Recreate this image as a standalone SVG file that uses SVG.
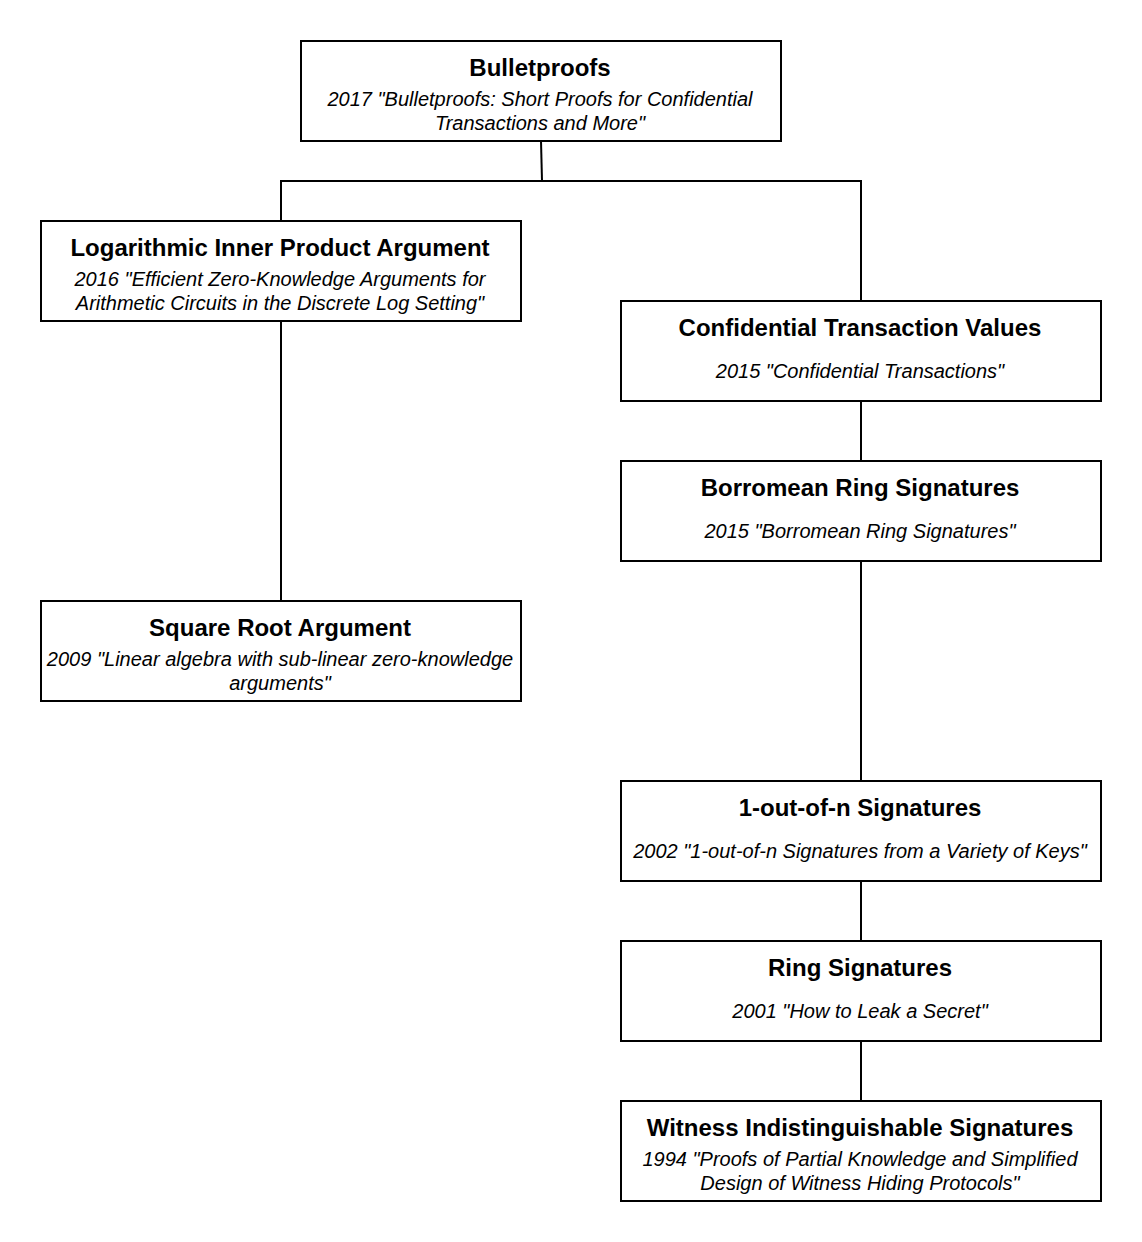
<svg xmlns="http://www.w3.org/2000/svg" width="1142" height="1242" viewBox="0 0 1142 1242">
<style>
.box{fill:#fff;stroke:#000;stroke-width:2}
.t{font-family:"Liberation Sans",Arial,sans-serif;font-size:24px;font-weight:bold;text-anchor:middle;fill:#000}
.s{font-family:"Liberation Sans",Arial,sans-serif;font-size:20px;font-style:italic;text-anchor:middle;fill:#000}
.c{fill:none;stroke:#000;stroke-width:2}
</style>
<rect width="1142" height="1242" fill="#fff"/>
<g id="connectors">
<path class="c" d="M541 141 L542 181"/>
<path class="c" d="M281 221 L281 181 L861 181 L861 301"/>
<path class="c" d="M281 321 L281 601"/>
<path class="c" d="M861 401 L861 461"/>
<path class="c" d="M861 561 L861 781"/>
<path class="c" d="M861 881 L861 941"/>
<path class="c" d="M861 1041 L861 1101"/>
</g>
<g id="bulletproofs">
<rect class="box" x="301" y="41" width="480" height="100"/>
<text class="t" x="540" y="76">Bulletproofs</text>
<text class="s" x="540" y="106">2017 "Bulletproofs: Short Proofs for Confidential</text>
<text class="s" x="540" y="130">Transactions and More"</text>
</g>
<g id="log-inner-product">
<rect class="box" x="41" y="221" width="480" height="100"/>
<text class="t" x="280" y="256">Logarithmic Inner Product Argument</text>
<text class="s" x="280" y="286">2016 "Efficient Zero-Knowledge Arguments for</text>
<text class="s" x="280" y="310">Arithmetic Circuits in the Discrete Log Setting"</text>
</g>
<g id="square-root">
<rect class="box" x="41" y="601" width="480" height="100"/>
<text class="t" x="280" y="636">Square Root Argument</text>
<text class="s" x="280" y="666">2009 "Linear algebra with sub-linear zero-knowledge</text>
<text class="s" x="280" y="690">arguments"</text>
</g>
<g id="confidential-tx">
<rect class="box" x="621" y="301" width="480" height="100"/>
<text class="t" x="860" y="336">Confidential Transaction Values</text>
<text class="s" x="860" y="378">2015 "Confidential Transactions"</text>
</g>
<g id="borromean">
<rect class="box" x="621" y="461" width="480" height="100"/>
<text class="t" x="860" y="496">Borromean Ring Signatures</text>
<text class="s" x="860" y="538">2015 "Borromean Ring Signatures"</text>
</g>
<g id="one-out-of-n">
<rect class="box" x="621" y="781" width="480" height="100"/>
<text class="t" x="860" y="816">1-out-of-n Signatures</text>
<text class="s" x="860" y="858">2002 "1-out-of-n Signatures from a Variety of Keys"</text>
</g>
<g id="ring">
<rect class="box" x="621" y="941" width="480" height="100"/>
<text class="t" x="860" y="976">Ring Signatures</text>
<text class="s" x="860" y="1018">2001 "How to Leak a Secret"</text>
</g>
<g id="witness">
<rect class="box" x="621" y="1101" width="480" height="100"/>
<text class="t" x="860" y="1136">Witness Indistinguishable Signatures</text>
<text class="s" x="860" y="1166">1994 "Proofs of Partial Knowledge and Simplified</text>
<text class="s" x="860" y="1190">Design of Witness Hiding Protocols"</text>
</g>
</svg>
